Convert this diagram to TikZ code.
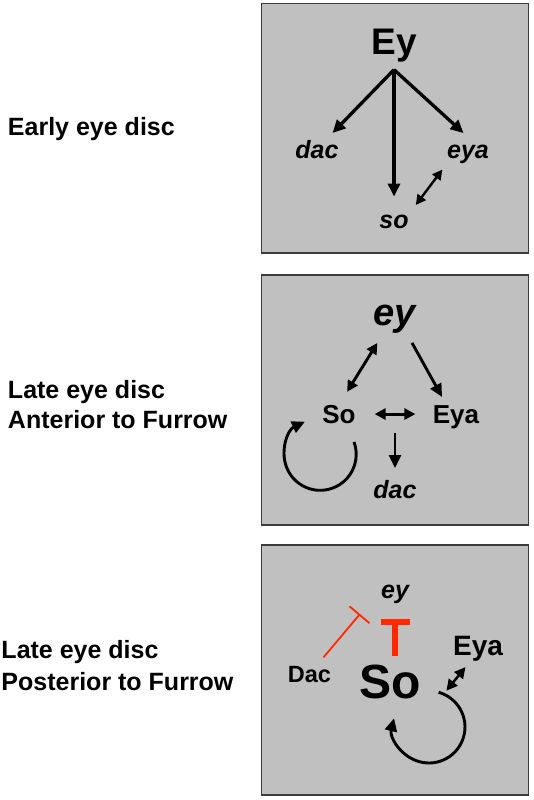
\documentclass[tikz,border=0pt]{standalone}
\usepackage{fontspec}
\setmainfont{Liberation Sans}
\usetikzlibrary{arrows.meta,positioning}
\definecolor{discgray}{RGB}{192,192,192}
\definecolor{framegray}{RGB}{60,60,60}
\definecolor{inhibred}{RGB}{255,40,0}

\begin{document}
\begin{tikzpicture}[->, >={Triangle[length=13pt,width=12pt]}, line width=2.9pt, x=1pt, y=-1pt]
        \tikzstyle{every node}=[inner sep=0pt, outer sep=0pt, anchor=base, text=black]
        \tikzstyle{panel}=[-, fill=discgray, draw=framegray, line width=1.3pt]
        \tikzstyle{stage}=[anchor=base west, font=\fontsize{25}{30}\selectfont\bfseries]
        \tikzstyle{prot}=[font=\fontsize{26}{30}\selectfont\bfseries]
        \tikzstyle{gene}=[font=\fontsize{25}{30}\selectfont\bfseries\itshape]
        \tikzstyle{pair}=[<->, >={Triangle[length=11pt,width=11pt]}]
        \tikzstyle{inhib}=[draw=inhibred]

        \useasboundingbox (0,0) rectangle (533,800);
        \draw[panel] (261.5,3.5) rectangle (528.5,253);
        \draw[panel] (261.5,275) rectangle (528.5,525);
        \draw[panel] (261.5,545) rectangle (528.5,795);

        \node[stage]    (early) at (8,135)      {Early eye disc};
        \node[stage]    (lateA) at (8,398)      {Late eye disc};
        \node[stage]    (ant)   at (8,428)      {Anterior to Furrow};
        \node[stage]    (lateB) at (1.5,658)    {Late eye disc};
        \node[stage]    (post)  at (1.5,690)    {Posterior to Furrow};

        \node[font=\fontsize{37}{40}\selectfont\bfseries] (Ey) at (394,55) {Ey};
        \node[gene]     (dac)   at (317,158)    {dac};
        \node[gene]     (eya)   at (468,158)    {eya};
        \node[gene]     (so)    at (394,228)    {so};
        \coordinate[below=7pt of Ey.south] (hub);

        \path[line width=3.3pt, >={Triangle[length=13pt,width=12pt]}]
            (hub) edge[shorten >=9.5pt]     (dac)
            (hub) edge[shorten >=18pt]      (so)
            (hub) edge[shorten >=17pt]      (eya.49)
        ;
        \path[pair, line width=2.4pt, >={Triangle[length=10pt,width=10pt]}]
            (eya.south west) edge[shorten <=8pt, shorten >=12pt] (so.north east)
        ;

        \node[font=\fontsize{38}{40}\selectfont\bfseries\itshape] (ey) at (395,325) {ey};
        \node[prot]     (So)    at (339,423)    {So};
        \node[prot]     (Eya)   at (456,423)    {Eya};
        \node[gene]     (dacB)  at (395,498)    {dac};
        \coordinate (split) at (395,433);
        \coordinate (selfA) at (354,442);

        \path
            (ey.-129) edge[pair, shorten <=11.8pt, shorten >=15.4pt]  (So.north)
            (ey.-51)  edge[shorten <=11.4pt, shorten >=9.3pt]         (Eya.129)
            (So.east) edge[pair, shorten <=19pt, shorten >=17.5pt]    (So.east -| Eya.west)
            (split)   edge[shorten >=11.8pt]                          (dacB.north)
        ;
        \draw (selfA) arc[start angle=-20, end angle=245, radius=36];

        \node[gene]     (eyC)   at (395,598)    {ey};
        \node[font=\fontsize{48}{50}\selectfont\bfseries] (SoC) at (390.5,698) {So};
        \node[font=\fontsize{28}{30}\selectfont\bfseries] (EyaC) at (478,655) {Eya};
        \node[font=\fontsize{23.5}{30}\selectfont\bfseries] (DacC) at (309.5,682) {Dac};
        \coordinate (block) at (360,614);
        \coordinate (selfB) at (438.6,692.3);

        \path
            (eyC.south |- SoC.north) edge[inhib, -{Bar[width=29pt]}, line width=6pt, shorten <=8pt, shorten >=15.8pt] (eyC.south)
            (DacC)      edge[inhib, -{Bar[width=26pt]}, line width=1.8pt, shorten <=11pt] (block)
            (EyaC.-121) edge[pair, line width=2.5pt, shorten <=8pt, shorten >=10pt] ([xshift=19pt]SoC.south east)
        ;
        \draw (selfB) arc[start angle=-74.5, end angle=194, radius=36];
\end{tikzpicture}
\end{document}
